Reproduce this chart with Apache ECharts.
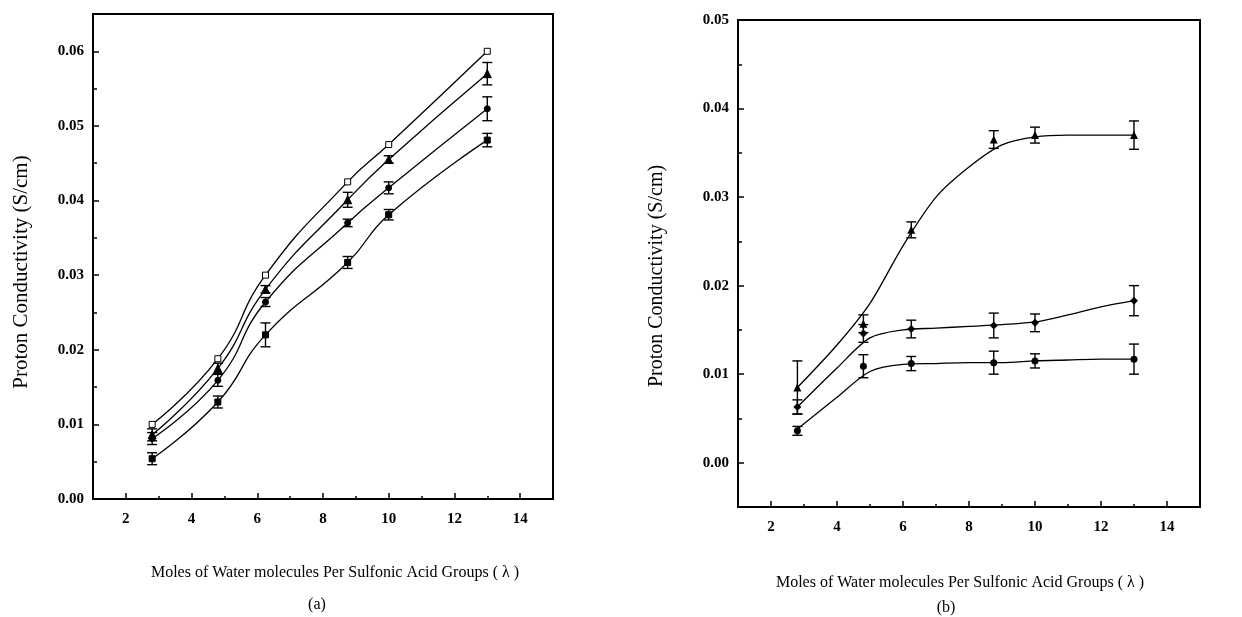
<!DOCTYPE html>
<html>
<head>
<meta charset="utf-8">
<script src="https://cdn.jsdelivr.net/npm/echarts@6/dist/echarts.min.js"></script>
<style>
  html, body { margin: 0; padding: 0; background: #fff; }
  #main { width: 1242px; height: 617px; }
</style>
</head>
<body>
<div id="main"></div>
<script>
// x values (lambda)
const lambdaA = [2.8, 4.8, 6.25, 8.75, 10, 13];
const lambdaB = [2.8, 4.8, 6.25, 8.75, 10, 13];

// panel (a) values and error bars
const aOpenSquare = [0.0100, 0.0188, 0.0300, 0.0425, 0.0475, 0.0600];
const aTriangle = [0.0086, 0.0175, 0.0281, 0.0401, 0.0455, 0.0570];
const aTriangleErr = [0.0008, 0.0007, 0.0005, 0.0010, 0.0005, 0.0015];
const aCircle = [0.0081, 0.0159, 0.0264, 0.0370, 0.0417, 0.0523];
const aCircleErr = [0.0008, 0.0008, 0.0006, 0.0005, 0.0008, 0.0016];
const aSquare = [0.0054, 0.0130, 0.0220, 0.0317, 0.0381, 0.0481];
const aSquareErr = [0.0008, 0.0008, 0.0016, 0.0008, 0.0007, 0.0009];

// panel (b) values and error bars
const bTriangle = [0.0085, 0.0157, 0.0263, 0.0365, 0.0370, 0.0370];
const bTriangleErr = [0.0030, 0.0010, 0.0009, 0.0010, 0.0009, 0.0016];
const bDiamond = [0.0063, 0.0146, 0.0151, 0.0155, 0.0158, 0.0183];
const bDiamondErr = [0.0008, 0.0010, 0.0010, 0.0014, 0.0010, 0.0017];
const bCircle = [0.0036, 0.0109, 0.0112, 0.0113, 0.0115, 0.0117];
const bCircleErr = [0.0005, 0.0013, 0.0008, 0.0013, 0.0008, 0.0017];

// fitted curves of panel (b)
const bFitX = [2.8, 4, 5, 6, 7, 8, 9, 10, 11, 12, 13];
const bFitTop = [0.0085, 0.0133, 0.0180, 0.0245, 0.0300, 0.0334, 0.0359, 0.0368, 0.0370, 0.0370, 0.0370];
const bFitMid = [0.0063, 0.0107, 0.0141, 0.0150, 0.0152, 0.0154, 0.0156, 0.0159, 0.0167, 0.0176, 0.0183];
const bFitLow = [0.0038, 0.0074, 0.0103, 0.0111, 0.0112, 0.0113, 0.0113, 0.0115, 0.0116, 0.0117, 0.0117];

// ticks
const xMajor = [2, 4, 6, 8, 10, 12, 14];
const xMinor = [3, 5, 7, 9, 11, 13];
const yMajorA = [0, 0.01, 0.02, 0.03, 0.04, 0.05, 0.06];
const yMinorA = [0.005, 0.015, 0.025, 0.035, 0.045, 0.055];
const yMajorB = [0, 0.01, 0.02, 0.03, 0.04, 0.05];
const yMinorB = [0.005, 0.015, 0.025, 0.035, 0.045];

const yTitle = "Proton Conductivity (S/cm)";
const xTitle = "Moles of Water molecules Per Sulfonic Acid Groups ( \u03bb )";

const serif = "'Liberation Serif', 'DejaVu Serif', serif";

function pairs(xs, ys) {
  return xs.map((x, i) => [x, ys[i]]);
}
function triples(xs, ys, es) {
  return xs.map((x, i) => [x, ys[i], es[i]]);
}

function xAxisPair(grid) {
  return [
    {
      gridIndex: grid, type: "value", min: 1, max: 15, position: "bottom",
      splitLine: { show: false },
      axisLine: { onZero: false, lineStyle: { color: "#000", width: 2 } },
      axisTick: { inside: true, length: 6, customValues: xMajor, lineStyle: { color: "#000", width: 1.5 } },
      axisLabel: { customValues: xMajor, margin: 13, color: "#000", fontFamily: serif, fontSize: 15, fontWeight: "bold" },
    },
    {
      gridIndex: grid, type: "value", min: 1, max: 15, position: "bottom",
      splitLine: { show: false },
      axisLine: { show: false, onZero: false },
      axisTick: { inside: true, length: 3, customValues: xMinor, lineStyle: { color: "#000", width: 1.5 } },
      axisLabel: { show: false },
    },
  ];
}

function yAxisPair(grid, min, max, major, minor) {
  return [
    {
      gridIndex: grid, type: "value", min: min, max: max, position: "left",
      splitLine: { show: false },
      axisLine: { onZero: false, lineStyle: { color: "#000", width: 2 } },
      axisTick: { inside: true, length: 6, customValues: major, lineStyle: { color: "#000", width: 1.5 } },
      axisLabel: {
        customValues: major, margin: 9, color: "#000", fontFamily: serif, fontSize: 15, fontWeight: "bold",
        formatter: (v) => v.toFixed(2),
      },
    },
    {
      gridIndex: grid, type: "value", min: min, max: max, position: "left",
      splitLine: { show: false },
      axisLine: { show: false, onZero: false },
      axisTick: { inside: true, length: 4, customValues: minor, lineStyle: { color: "#000", width: 1.5 } },
      axisLabel: { show: false },
    },
  ];
}

// error bar drawn through the axis scale
function errorBars(xi, yi, data) {
  return {
    type: "custom",
    xAxisIndex: xi, yAxisIndex: yi,
    data: data,
    encode: { x: 0, y: 1 },
    z: 3,
    renderItem: function (params, api) {
      const x = api.value(0), y = api.value(1), e = api.value(2);
      if (!e) return;
      const top = api.coord([x, y + e]);
      const bot = api.coord([x, y - e]);
      const w = 5;
      const st = { stroke: "#000", lineWidth: 1.4 };
      return {
        type: "group",
        children: [
          { type: "line", shape: { x1: top[0], y1: top[1], x2: bot[0], y2: bot[1] }, style: st },
          { type: "line", shape: { x1: top[0] - w, y1: top[1], x2: top[0] + w, y2: top[1] }, style: st },
          { type: "line", shape: { x1: bot[0] - w, y1: bot[1], x2: bot[0] + w, y2: bot[1] }, style: st },
        ],
      };
    },
  };
}

function curveA(ys, symbol, size, fill) {
  return {
    type: "line", xAxisIndex: 0, yAxisIndex: 0,
    data: pairs(lambdaA, ys),
    smooth: 0.5,
    symbol: symbol, symbolSize: size, showSymbol: true,
    lineStyle: { color: "#000", width: 1.3 },
    itemStyle: { color: fill, borderColor: "#000", borderWidth: 1 },
    z: 4,
  };
}

function fitB(ys) {
  return {
    type: "line", xAxisIndex: 2, yAxisIndex: 2,
    data: pairs(bFitX, ys),
    smooth: 0.3,
    showSymbol: false,
    lineStyle: { color: "#000", width: 1.3 },
    z: 2,
  };
}

function pointsB(ys, symbol, size) {
  return {
    type: "scatter", xAxisIndex: 2, yAxisIndex: 2,
    data: pairs(lambdaB, ys),
    symbol: symbol, symbolSize: size,
    itemStyle: { color: "#000", opacity: 1 },
    z: 4,
  };
}

function label(text, x, y, size, rotate) {
  return {
    type: "text", x: x, y: y, rotation: rotate ? Math.PI / 2 : 0,
    style: { text: text, fill: "#000", font: size + "px " + serif, align: "center", verticalAlign: "middle" },
  };
}

let myChart = echarts.init(document.getElementById("main"));
myChart.setOption({
  backgroundColor: "#fff",
  animation: false,
  grid: [
    { left: 93, top: 14, width: 460, height: 485, show: true, borderColor: "#000", borderWidth: 2, backgroundColor: "transparent" },
    { left: 738, top: 20, width: 462, height: 487, show: true, borderColor: "#000", borderWidth: 2, backgroundColor: "transparent" },
  ],
  xAxis: [...xAxisPair(0), ...xAxisPair(1)],
  yAxis: [
    ...yAxisPair(0, 0, 0.065, yMajorA, yMinorA),
    ...yAxisPair(1, -0.005, 0.05, yMajorB, yMinorB),
  ],
  graphic: [
    label(yTitle, 21, 272, 21, true),
    label(yTitle, 657, 276, 20, true),
    label(xTitle, 335, 573, 16),
    label("(a)", 317, 605, 16),
    label(xTitle, 960, 583, 16),
    label("(b)", 946, 608, 16),
  ],
  series: [
    // panel (a)
    curveA(aOpenSquare, "rect", 6, "#fff"),
    curveA(aTriangle, "triangle", 8, "#000"),
    curveA(aCircle, "circle", 6, "#000"),
    curveA(aSquare, "rect", 6, "#000"),
    errorBars(0, 0, triples(lambdaA, aTriangle, aTriangleErr)),
    errorBars(0, 0, triples(lambdaA, aCircle, aCircleErr)),
    errorBars(0, 0, triples(lambdaA, aSquare, aSquareErr)),
    // panel (b)
    fitB(bFitTop),
    fitB(bFitMid),
    fitB(bFitLow),
    pointsB(bTriangle, "triangle", 8),
    pointsB(bDiamond, "diamond", 8),
    pointsB(bCircle, "circle", 7),
    errorBars(2, 2, triples(lambdaB, bTriangle, bTriangleErr)),
    errorBars(2, 2, triples(lambdaB, bDiamond, bDiamondErr)),
    errorBars(2, 2, triples(lambdaB, bCircle, bCircleErr)),
  ],
});
</script>
</body>
</html>
